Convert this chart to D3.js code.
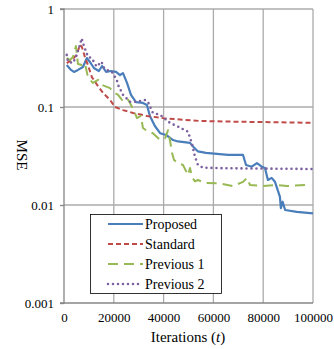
<!DOCTYPE html>
<html>
<head>
<meta charset="utf-8">
<script src="https://cdn.jsdelivr.net/npm/d3@7"></script>
<style>
    body { margin: 0; background: #fff; }
    svg { display: block; font-family: "Liberation Serif", "Times New Roman", serif; }
</style>
</head>
<body>
<div id="chart"></div>
<script>
// MSE vs iterations, log scale, four methods

const X_TICKS = [0, 20000, 40000, 60000, 80000, 100000];
const Y_TICKS = [0.001, 0.01, 0.1, 1];
const SERIES_NAMES = ['Proposed', 'Standard', 'Previous 1', 'Previous 2'];

// [iteration, mse]
const proposed = [
    [1100, 0.268], [2800, 0.239], [4000, 0.228], [5600, 0.239], [7600, 0.256],
    [9200, 0.316], [10400, 0.288], [12000, 0.25], [14000, 0.233], [15300, 0.262],
    [16900, 0.228], [18900, 0.233], [20900, 0.228], [22500, 0.212], [23700, 0.222],
    [25300, 0.176], [26900, 0.133], [28900, 0.112], [31700, 0.11], [33300, 0.105],
    [34500, 0.081], [36500, 0.064], [38600, 0.054], [41000, 0.0518], [43800, 0.046],
    [45800, 0.0445], [50600, 0.043], [51800, 0.0395], [53800, 0.0352], [57000, 0.034],
    [65900, 0.0324], [71900, 0.0324], [73100, 0.0256], [75400, 0.0246], [77500, 0.0268],
    [79400, 0.0246], [80700, 0.0239], [81900, 0.018], [83400, 0.0189], [84700, 0.0173],
    [86700, 0.0122], [87100, 0.0093], [87800, 0.0108], [88800, 0.0089], [93500, 0.0085],
    [100000, 0.0082]
];

const standard = [
    [1100, 0.281], [3100, 0.302], [5100, 0.34], [6400, 0.43], [7200, 0.41],
    [8400, 0.324], [9600, 0.268], [11200, 0.202], [13300, 0.168], [15700, 0.139],
    [18500, 0.118], [20500, 0.1], [23700, 0.093], [27700, 0.087], [33300, 0.081],
    [39800, 0.077], [46600, 0.0745], [54600, 0.072], [68300, 0.0708], [82700, 0.07],
    [100000, 0.069]
];

const previous1 = [
    [1100, 0.316], [2400, 0.302], [3600, 0.324], [4800, 0.419], [5600, 0.275],
    [7200, 0.268], [8400, 0.281], [9600, 0.202], [11600, 0.176], [13700, 0.189],
    [15300, 0.168], [18500, 0.156], [19700, 0.142], [21700, 0.133], [23300, 0.118],
    [25300, 0.124], [26500, 0.11], [28500, 0.087], [29300, 0.077], [30900, 0.081],
    [31700, 0.061], [33300, 0.057], [35700, 0.054], [38600, 0.046], [40600, 0.048],
    [41800, 0.058], [42600, 0.045], [43400, 0.034], [44200, 0.0288], [45800, 0.0268],
    [47800, 0.0256], [49800, 0.0202], [50600, 0.0239], [51400, 0.0193], [52600, 0.0174],
    [53800, 0.018], [56600, 0.0168], [62700, 0.0166], [67900, 0.0156], [71900, 0.0172],
    [73500, 0.0189], [74700, 0.016], [79900, 0.0156], [85500, 0.016], [89600, 0.0156],
    [96800, 0.016], [98800, 0.0159]
];

const previous2 = [
    [1100, 0.34], [1600, 0.29], [3600, 0.281], [4800, 0.324], [6400, 0.43],
    [7100, 0.502], [7600, 0.45], [9600, 0.326], [11100, 0.316], [13100, 0.258],
    [15100, 0.29], [15700, 0.258], [17100, 0.239], [19200, 0.229], [21200, 0.189],
    [21700, 0.168], [23700, 0.133], [26500, 0.113], [29200, 0.113], [32500, 0.118],
    [33700, 0.113], [35700, 0.087], [38600, 0.083], [42600, 0.0687], [45800, 0.063],
    [49800, 0.056], [51300, 0.043], [52600, 0.0311], [53800, 0.0256], [55800, 0.024],
    [65900, 0.0237], [100000, 0.0233]
];

const width = 334, height = 349;
const margin = { top: 9, right: 21, bottom: 46, left: 64 };

const styles = [
    { color: '#4a7ebb', dash: null, w: 2.2, cap: 'butt' },
    { color: '#be4b48', dash: '5,3', w: 2, cap: 'butt' },
    { color: '#98b954', dash: '10,6', w: 2, cap: 'butt' },
    { color: '#7d60a0', dash: '0,5', w: 2.6, cap: 'round' }
];

const svg = d3.select('#chart').append('svg')
    .attr('width', width)
    .attr('height', height);

const x = d3.scaleLinear()
    .domain([0, 100000])
    .range([margin.left, width - margin.right]);

const y = d3.scaleLog()
    .domain([0.001, 1])
    .range([height - margin.bottom, margin.top]);

// gridlines
svg.append('g')
    .selectAll('line.vgrid')
    .data(X_TICKS.slice(1))
    .enter().append('line')
    .attr('x1', d => x(d)).attr('x2', d => x(d))
    .attr('y1', y(1)).attr('y2', y(0.001))
    .attr('stroke', '#ababab').attr('stroke-width', 1.3);

svg.append('g')
    .selectAll('line.hgrid')
    .data(Y_TICKS.slice(1))
    .enter().append('line')
    .attr('x1', x(0)).attr('x2', x(100000))
    .attr('y1', d => y(d)).attr('y2', d => y(d))
    .attr('stroke', '#ababab').attr('stroke-width', 1.3);

// axes
const yAxis = svg.append('g')
    .attr('transform', `translate(${x(0)},0)`)
    .call(d3.axisLeft(y).tickValues(Y_TICKS).tickSize(4).tickPadding(6)
        .tickFormat(d => d === 1 ? '1' : String(d)));

const xAxis = svg.append('g')
    .attr('transform', `translate(0,${y(0.001)})`)
    .call(d3.axisBottom(x).tickValues(X_TICKS).tickSize(0).tickPadding(10)
        .tickFormat(d => String(d)));

[yAxis, xAxis].forEach(g => {
    g.select('.domain').attr('stroke', '#868686').attr('stroke-width', 1.3);
    g.selectAll('.tick line').attr('stroke', '#868686').attr('stroke-width', 1.3);
    g.selectAll('.tick text')
        .attr('fill', '#000')
        .style('font-family', '"Liberation Serif", serif')
        .style('font-size', '13px');
});
yAxis.select('.domain').attr('d', `M-4,${y(1)}H0V${y(0.001)}H-4`);
xAxis.select('.domain').attr('d', `M${x(0)},0H${x(100000)}`);

// lines
const line = d3.line()
    .x(d => x(d[0]))
    .y(d => y(d[1]));

const allSeries = [proposed, standard, previous1, previous2];

svg.append('g')
    .selectAll('path.series')
    .data(allSeries)
    .enter().append('path')
    .attr('class', 'series')
    .attr('d', line)
    .attr('fill', 'none')
    .attr('stroke', (d, i) => styles[i].color)
    .attr('stroke-width', (d, i) => styles[i].w)
    .attr('stroke-dasharray', (d, i) => styles[i].dash)
    .attr('stroke-linecap', (d, i) => styles[i].cap)
    .attr('stroke-linejoin', 'round');

// axis titles
svg.append('text')
    .attr('transform', `translate(17,155) rotate(90)`)
    .attr('text-anchor', 'middle')
    .style('font-size', '15px')
    .text('MSE');

const xt = svg.append('text')
    .attr('x', 188)
    .attr('y', 342)
    .attr('text-anchor', 'middle')
    .style('font-size', '15px');
xt.append('tspan').text('Iterations (');
xt.append('tspan').style('font-style', 'italic').text('t');
xt.append('tspan').text(')');

// legend
const legend = svg.append('g').attr('transform', 'translate(90,214)');
legend.append('rect')
    .attr('x', 0.5).attr('y', 0.5)
    .attr('width', 131).attr('height', 79)
    .attr('fill', '#fff')
    .attr('stroke', '#000').attr('stroke-width', 0.8);

const items = legend.selectAll('g.item')
    .data(SERIES_NAMES)
    .enter().append('g')
    .attr('class', 'item')
    .attr('transform', (d, i) => `translate(0,${10 + i * 20})`);

items.append('line')
    .attr('x1', 18).attr('x2', 53)
    .attr('y1', 0).attr('y2', 0)
    .attr('stroke', (d, i) => styles[i].color)
    .attr('stroke-width', (d, i) => styles[i].w)
    .attr('stroke-dasharray', (d, i) => styles[i].dash)
    .attr('stroke-linecap', (d, i) => styles[i].cap);

items.append('text')
    .attr('x', 55)
    .attr('y', 0)
    .attr('dy', '0.35em')
    .style('font-size', '14px')
    .text(d => d);
</script>
</body>
</html>
